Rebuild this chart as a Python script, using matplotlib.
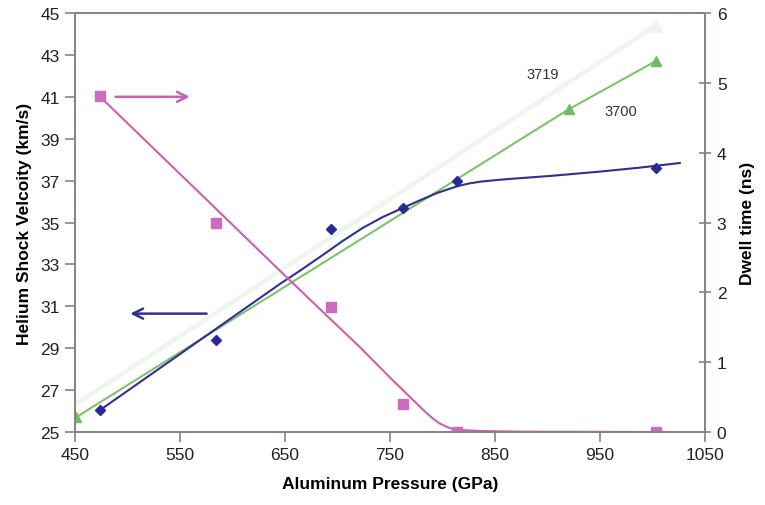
import matplotlib
matplotlib.use('Agg')
import matplotlib.pyplot as plt

plt.rcParams['font.family'] = ['Liberation Sans', 'DejaVu Sans']

# measured points
pressure = [474, 584, 694, 762, 814, 1003]
he_velocity = [26.05, 29.4, 34.7, 35.7, 37.0, 37.6]
dwell = [4.81, 2.99, 1.79, 0.40, 0.0, 0.0]

# He Hugoniot, two quartz references
p_3700 = [451, 920, 1003]
v_3700 = [25.7, 40.4, 42.7]
p_3719 = [450, 1003]
v_3719 = [26.3, 44.4]

# trend curves
vel_fit_p = [474, 560, 645, 664, 686, 705, 724, 743, 762, 779, 795, 805, 814, 825,
             836, 850, 864, 902, 950, 988, 1026]
vel_fit_v = [26.05, 29.07, 32.06, 32.69, 33.45, 34.12, 34.74, 35.26, 35.69, 36.07, 36.41, 36.58, 36.73, 36.86,
             36.95, 37.02, 37.08, 37.22, 37.43, 37.62, 37.84]
dwell_fit_p = [474, 560, 652, 693, 721, 750, 765, 780, 786, 792, 797, 803, 808, 814,
               835, 870, 1003]
dwell_fit_t = [4.80, 3.55, 2.21, 1.62, 1.22, 0.78, 0.56, 0.34, 0.255, 0.18, 0.125, 0.08, 0.05, 0.03,
               0.015, 0.005, 0.0]

BLUE = '#332e8f'
PINK = '#cc5fb0'
PINK_M = '#cc6cbf'
GREEN = '#7cc46c'
PALE = '#edf6ea'
AXC = '#8a807c'

fig = plt.figure(figsize=(7.65, 5.06), dpi=100)
ax = fig.add_axes([0.098, 0.1443, 0.8236, 0.828])
ax2 = ax.twinx()

ax.plot(p_3719, v_3719, color=PALE, lw=3.2, solid_capstyle='butt', zorder=1)
ax.plot(p_3719[-1:], v_3719[-1:], '^', color=PALE, ms=8, zorder=1)
ax.plot(p_3700, v_3700, color=GREEN, lw=1.5, marker='^', ms=7, mfc='#6cbf5c', mec='#6cbf5c', zorder=2)
ax.plot(vel_fit_p, vel_fit_v, color=BLUE, lw=1.5, zorder=3)
ax.plot(pressure, he_velocity, 'D', color='#2a2a96', ms=5, zorder=4)

ax2.plot(dwell_fit_p, dwell_fit_t, color=PINK, lw=1.5)
ax2.plot(pressure, dwell, 's', color=PINK_M, ms=7)

ax.annotate('', xy=(500, 30.65), xytext=(578, 30.65),
            arrowprops=dict(arrowstyle='->', color=BLUE, lw=1.8, mutation_scale=18))
ax.annotate('', xy=(562, 41.0), xytext=(486, 41.0),
            arrowprops=dict(arrowstyle='->', color=PINK, lw=1.8, mutation_scale=18))

ax.text(895, 42.1, '3719', fontsize=10.5, color='#333333', ha='center', va='center')
ax.text(970, 40.3, '3700', fontsize=10.5, color='#333333', ha='center', va='center')

ax.set_xlim(450, 1050)
ax.set_ylim(25, 45)
ax2.set_ylim(0, 6)
ax.set_xticks(range(450, 1051, 100))
ax.set_yticks(range(25, 46, 2))
ax2.set_yticks(range(0, 7))

for a in (ax, ax2):
    for s in a.spines.values():
        s.set_color(AXC)
        s.set_linewidth(1.2)
ax.tick_params(axis='both', direction='out', length=7, width=1.2, color=AXC,
               labelsize=12.5, labelcolor='#222222', pad=4)
ax2.tick_params(axis='y', direction='inout', length=9, width=1.2, color=AXC,
                labelsize=12.5, labelcolor='#222222', pad=4)

ax.set_xlabel('Aluminum Pressure (GPa)', fontsize=12.5, fontweight='bold', labelpad=10)
ax.set_ylabel('Helium Shock Velcoity (km/s)', fontsize=12.5, fontweight='bold', labelpad=6)
ax2.set_ylabel('Dwell time (ns)', fontsize=12.5, fontweight='bold', labelpad=10)

fig.savefig('out.png', dpi=100)
